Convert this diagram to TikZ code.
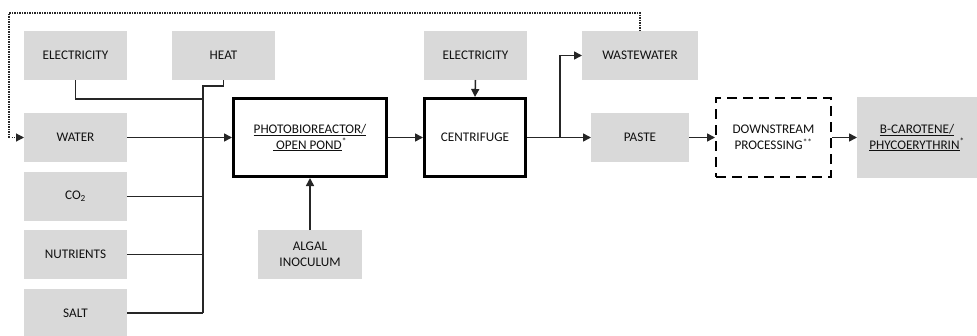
\documentclass[tikz,border=0pt]{standalone}
\usepackage{fontspec}
\setmainfont{Carlito}
\usetikzlibrary{arrows.meta}
\definecolor{boxgray}{HTML}{D9D9D9}
\definecolor{txt}{HTML}{111111}
\begin{document}
\begin{tikzpicture}[x=1pt,y=-1pt,
  lbl/.style={font=\fontsize{13.2}{16}\selectfont, text=txt, align=center},
  gbox/.style={lbl, fill=boxgray, draw=none, inner sep=0pt, outer sep=0pt},
  pbox/.style={lbl, draw=black, line width=3pt, fill=white, inner sep=0pt},
  dbox/.style={lbl, draw=black, line width=2pt, dash pattern=on 10pt off 6pt, fill=white, inner sep=0pt},
  conn/.style={line width=1.5pt, draw=black!85},
  arr/.style={conn, -{Triangle[length=8pt,width=8pt]}},
  dotline/.style={line width=1.1pt, draw=black!85, dash pattern=on 1.2pt off 1.3pt}
]
\fill[white] (0,0) rectangle (977,335);
\useasboundingbox (0,0) rectangle (977,335);

% gray input boxes
\node[gbox, minimum width=103pt, minimum height=49pt] (elecA) at (75.5,55.5) {ELECTRICITY};
\node[gbox, minimum width=103pt, minimum height=49pt] (heat) at (223.5,55.5) {HEAT};
\node[gbox, minimum width=103pt, minimum height=49pt] (water) at (75.5,137.5) {WATER};
\node[gbox, minimum width=103pt, minimum height=49pt] (co2) at (75.5,196.5) {CO\textsubscript{2}};
\node[gbox, minimum width=103pt, minimum height=49pt] (nutr) at (75.5,254.5) {NUTRIENTS};
\node[gbox, minimum width=103pt, minimum height=49pt] (salt) at (75.5,313) {SALT};
\node[gbox, minimum width=104pt, minimum height=49pt] (algal) at (310,254.5) {ALGAL\\INOCULUM};
\node[gbox, minimum width=103pt, minimum height=49pt] (elecB) at (475.5,55.5) {ELECTRICITY};
\node[gbox, minimum width=116pt, minimum height=49pt] (waste) at (640,55.5) {WASTEWATER};
\node[gbox, minimum width=98pt, minimum height=49pt] (paste) at (640,137.5) {PASTE};
\node[gbox, minimum width=120pt, minimum height=81pt] (carot) at (917,137.5) {\underline{B-CAROTENE/}\\\underline{PHYCOERYTHRIN}\textsuperscript{*}};

% process boxes
\node[pbox, minimum width=153pt, minimum height=78pt] (pbr) at (310,137.5) {\underline{PHOTOBIOREACTOR/}\\\underline{ OPEN POND}\textsuperscript{*}};
\node[pbox, minimum width=101pt, minimum height=78pt] (cent) at (475,137.5) {CENTRIFUGE};
\node[dbox, minimum width=115pt, minimum height=79pt] (down) at (773.5,137.5) {DOWNSTREAM\\PROCESSING\textsuperscript{**}};

% bus coordinates
\coordinate (busTop) at (203,86);
\coordinate (busE) at (203,99);
\coordinate (busBot) at (203,313);
\coordinate (split) at (560,137.5);
\coordinate (dotTL) at (9,13);

% input connectors
\draw[conn] (elecA.south) |- (busE);
\draw[conn] (heat.south) |- (busTop) -- (busBot);
\draw[conn] (co2.east) -- (co2.east -| busTop);
\draw[conn] (nutr.east) -- (nutr.east -| busTop);
\draw[conn] (salt.east) -- (salt.east -| busTop);
\draw[arr] (water.east) -- (pbr.west);
\draw[arr] (algal.north) -- (pbr.south);

% main flow
\draw[arr] (pbr.east) -- (cent.west);
\draw[arr] (elecB.south) -- (cent.north);
\draw[conn] (cent.east) -- (split);
\draw[arr] (split) |- (waste.west);
\draw[arr] (split) -- (paste.west);
\draw[arr] (paste.east) -- (down.west);
\draw[arr] (down.east) -- (carot.west);

% recycle
\draw[dotline] (waste.north) |- (dotTL) -- (dotTL |- water.west);
\draw[dotline, -{Triangle[length=8pt,width=8pt]}] (dotTL |- water.west) -- (water.west);
\end{tikzpicture}
\end{document}
